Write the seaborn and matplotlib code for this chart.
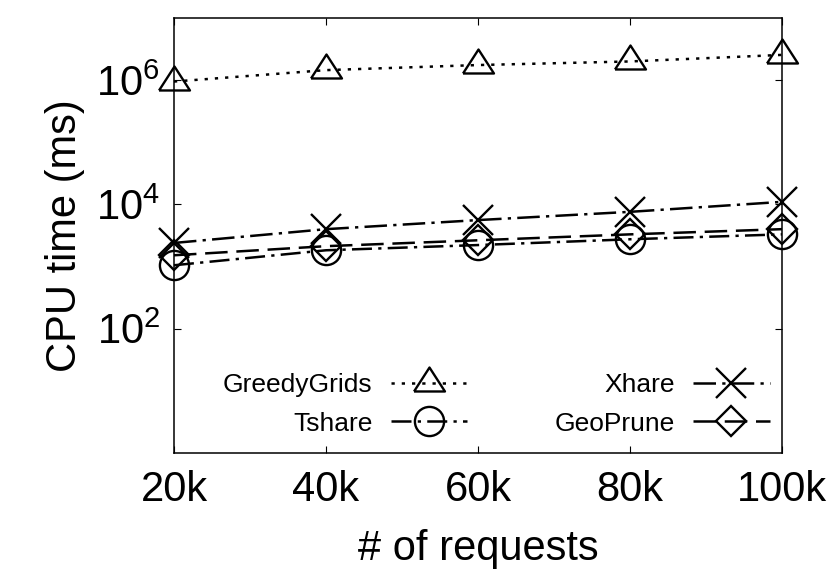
import numpy as np
import pandas as pd
import matplotlib
matplotlib.use('Agg')
import matplotlib.pyplot as plt
import seaborn as sns
from matplotlib.ticker import FixedLocator, FuncFormatter, NullLocator

# values (CPU time in ms, log scale)
requests = [20000, 40000, 60000, 80000, 100000]
xtick_labels = ['20k', '40k', '60k', '80k', '100k']
greedy_grids = [9.5e5, 1.45e6, 1.75e6, 2.0e6, 2.55e6]
tshare = [1050, 1830, 2220, 2750, 3300]
xhare = [2400, 4000, 5600, 7600, 11000]
geoprune = [1520, 2130, 2650, 3300, 4000]
ytick_values = [1e2, 1e4, 1e6]

sns.set_style('ticks')
plt.rcParams['font.family'] = ['Liberation Sans', 'DejaVu Sans']
plt.rcParams['mathtext.fontset'] = 'custom'
plt.rcParams['mathtext.rm'] = 'Liberation Sans'
plt.rcParams['mathtext.it'] = 'Liberation Sans'
for k in ['text.color', 'axes.labelcolor', 'xtick.color', 'ytick.color',
          'axes.edgecolor']:
    plt.rcParams[k] = 'black'

fig = plt.figure(figsize=(8.3, 5.81), dpi=100)
ax = fig.add_axes([0.2096, 0.2203, 0.7325, 0.7487])

# gnuplot-like triangle: centroid on the data point
tri = [(-15.5, -8), (15.5, -8), (0, 16), (-15.5, -8)]

series = [
    ('GreedyGrids', greedy_grids, tri, 23, (0, (1.3, 2.8))),
    ('Tshare', tshare, 'o', 21, (0, (8, 2.5, 1.3, 2.5))),
    ('Xhare', xhare, 'x', 22, (0, (9, 2.5, 1.3, 2.5))),
    ('GeoPrune', geoprune, 'D', 15, (0, (9, 3.5))),
]

handles = []
for name, vals, mk, ms, ls in series:
    df = pd.DataFrame({'x': requests, 'y': vals})
    sns.lineplot(data=df, x='x', y='y', ax=ax, color='black', lw=1.8,
                 linestyle=ls, marker=mk, markersize=ms,
                 markerfacecolor='none', markeredgecolor='black',
                 markeredgewidth=1.7, clip_on=False, errorbar=None,
                 label=name)
    handles.append(ax.lines[-1])

ax.set_yscale('log')
ax.set_xlim(20000, 100000)
ax.set_ylim(1, 1e7)
ax.xaxis.set_major_locator(FixedLocator(requests))
ax.set_xticklabels(xtick_labels)
ax.yaxis.set_major_locator(FixedLocator(ytick_values))
ax.yaxis.set_minor_locator(NullLocator())
ax.yaxis.set_major_formatter(FuncFormatter(
    lambda v, p: r'$\mathregular{10^{%d}}$' % round(np.log10(v))))

ax.tick_params(axis='both', which='major', direction='in', length=5,
               width=0.8, top=True, right=True, labelsize=30)
ax.tick_params(axis='x', pad=12)
ax.tick_params(axis='y', pad=10)
for s in ax.spines.values():
    s.set_linewidth(1.1)

ax.set_xlabel('# of requests', fontsize=30, labelpad=14)
ax.set_ylabel('CPU time (ms)', fontsize=30, labelpad=8)

ax.legend(handles=handles,
          labels=['GreedyGrids', 'Tshare', 'Xhare', 'GeoPrune'],
          ncol=2, markerfirst=False, frameon=False, fontsize=19,
          loc='lower center', bbox_to_anchor=(0.53, 0.04),
          borderaxespad=0, borderpad=0, handlelength=2.9,
          handletextpad=0.7, columnspacing=3.3, labelspacing=0.55,
          numpoints=1)

fig.savefig('out.png', dpi=100)
